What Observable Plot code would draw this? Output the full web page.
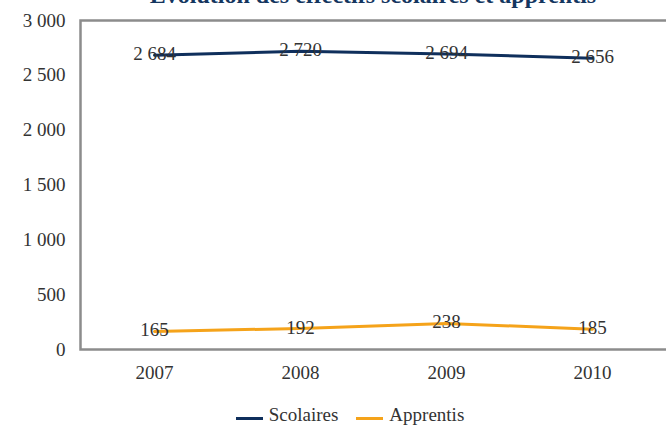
<!DOCTYPE html>
<html>
<head>
<meta charset="utf-8">
<script src="https://cdn.jsdelivr.net/npm/d3@7"></script>
<script src="https://cdn.jsdelivr.net/npm/@observablehq/plot@0.6"></script>
<style>
  html, body { margin: 0; padding: 0; background: #fff; overflow: hidden; }
  #wrap { position: relative; width: 666px; height: 428px; font-family: "Liberation Serif", serif; }
  #title { position: absolute; top: -18px; left: 0; width: 746px; text-align: center; font-weight: bold; font-size: 24px; color: #14365f; white-space: nowrap; }
  #legend { position: absolute; top: 404px; left: 0; width: 700px; display: flex; justify-content: center; gap: 18px; font-size: 19px; color: #333; }
  .item { display: flex; align-items: center; }
  .sw { display: inline-block; width: 27px; height: 3px; margin-right: 6px; margin-top: 7px; }
</style>
</head>
<body>
<div id="wrap">
  <div id="chart"></div>
  <div id="title">Évolution des effectifs scolaires et apprentis</div>
  <div id="legend"></div>
</div>
<script>
const years = ["2007", "2008", "2009", "2010"];
const scolaires = [2684, 2720, 2694, 2656];
const apprentis = [165, 192, 238, 185];
const seriesNames = ["Scolaires", "Apprentis"];
const seriesColors = ["#0f2f5c", "#f5a31a"];
const yTicks = [0, 500, 1000, 1500, 2000, 2500, 3000];

const data = [];
years.forEach((y, i) => {
  data.push({year: y, value: scolaires[i], series: seriesNames[0]});
  data.push({year: y, value: apprentis[i], series: seriesNames[1]});
});
const fmt = d => d3.format(",")(d).replace(/,/g, " ");

const chart = Plot.plot({
  width: 666,
  height: 400,
  marginTop: 20,
  marginBottom: 51,
  marginLeft: 80,
  marginRight: 0,
  style: {fontFamily: "'Liberation Serif', serif", fontSize: "19px", color: "#333", background: "#fff"},
  x: {type: "point", domain: years, padding: 0.5, label: null, tickSize: 0, tickPadding: 16},
  y: {domain: [0, 3000], ticks: yTicks, tickFormat: fmt, label: null, tickSize: 0, tickPadding: 15},
  color: {domain: seriesNames, range: seriesColors},
  marks: [
    Plot.frame({stroke: "#8c8c8c", strokeWidth: 2.5, insetRight: -6}),
    Plot.line(data, {x: "year", y: "value", z: "series", stroke: "series", strokeWidth: 3}),
    Plot.text(data, {x: "year", y: "value", text: d => fmt(d.value), dy: -1, fill: "#333", fontSize: 19})
  ]
});
document.getElementById("chart").appendChild(chart);

const legend = document.getElementById("legend");
seriesNames.forEach((n, i) => {
  const it = document.createElement("span");
  it.className = "item";
  it.innerHTML = `<span class="sw" style="background:${seriesColors[i]}"></span>${n}`;
  legend.appendChild(it);
});
</script>
</body>
</html>
